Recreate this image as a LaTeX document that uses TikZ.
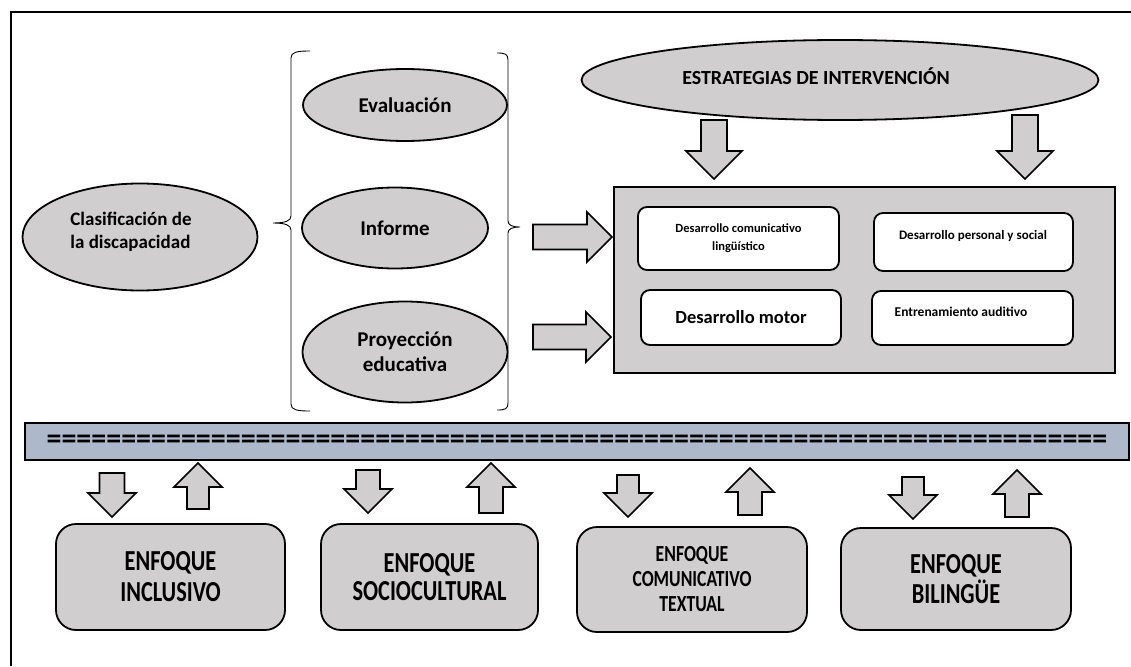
\documentclass[tikz,border=0pt]{standalone}
\usepackage{fontspec}
\setmainfont{Carlito}
\newfontfamily\narrowfont{Carlito}[FakeStretch=0.77]
\usepackage{tikz}
\usetikzlibrary{shapes.geometric}
\definecolor{shapegray}{RGB}{208,206,206}
\definecolor{barblue}{RGB}{173,185,202}
\tikzset{
	oval/.style={ellipse, draw=black, line width=1.8pt, fill=shapegray, inner sep=0pt, align=center},
	devbox/.style={draw=black, line width=1.8pt, fill=white, rounded corners=9pt, inner sep=0pt, align=center},
	focusbox/.style={draw=black, line width=1.8pt, fill=shapegray, rounded corners=20pt, inner sep=0pt, align=center},
	blockarr/.style={draw=black, line width=1.6pt, fill=shapegray, line join=miter},
	brace/.style={draw=black, line width=0.9pt}
}
% tip, angle, length, shaft half width, head half width
\newcommand{\blockarrow}[5]{%
	\begin{scope}[shift={#1}, rotate=#2]
		\filldraw[blockarr] (0,0) -- (-#5,#5) -- (-#5,#4) -- (-#3,#4) -- (-#3,-#4) -- (-#5,-#4) -- (-#5,-#5) -- cycle;
	\end{scope}}
\newcommand{\fs}[2]{\fontsize{#1}{#2}\selectfont\bfseries}

\begin{document}
\begin{tikzpicture}[x=1pt, y=-1pt]
		\useasboundingbox (0,0) rectangle (1131,666);
		\draw[line width=2.4pt] (11,666) -- (11,12) -- (1131,12);

		% left part
		\node[oval, minimum width=235pt, minimum height=107pt] (clasif) at (140,237) {};
		\node[font=\fs{19}{23}, align=left] (clasiftxt) at (131,232) {Clasificación de\\la discapacidad};
		\node[oval, minimum width=204pt, minimum height=72pt, font=\fs{21}{25}] (evalua) at (405,105) {Evaluación};
		\node[oval, minimum width=186pt, minimum height=81pt, font=\fs{21}{25}] (informe) at (395,228) {Informe};
		\node[oval, minimum width=205pt, minimum height=101pt, font=\fs{21}{25}] (proyec) at (405,352) {Proyección\\educativa};
		\draw[brace] (310,51) .. controls (297,51) and (291,52) .. (291,58) -- (291,216) .. controls (291,221) and (285,223) .. (273,223) .. controls (285,223) and (291,225) .. (291,230) -- (291,404) .. controls (291,410) and (297,411) .. (310,411);
		\draw[brace] (497,53) .. controls (505,53) and (508,54) .. (508,60) -- (508,221) .. controls (508,225) and (512,227) .. (520,227) .. controls (512,227) and (508,229) .. (508,233) -- (508,403) .. controls (508,409) and (505,410) .. (497,410);

		% right part
		\node[oval, minimum width=517pt, minimum height=80pt] (estrat) at (840,80) {};
		\node[font=\fs{20}{24}] (estrattxt) at (816,76) {ESTRATEGIAS DE INTERVENCIÓN};
		\node[draw=black, line width=2pt, fill=shapegray, minimum width=501pt, minimum height=186pt, inner sep=0pt] (dev) at (864.5,280) {};
		\node[devbox, minimum width=201pt, minimum height=63pt, font=\fs{12.5}{18}] (comun) at (738.5,238.5) {Desarrollo comunicativo\\lingüístico};
		\node[devbox, minimum width=199pt, minimum height=58pt] (personal) at (973.5,242) {};
		\node[font=\fs{13}{16}] (personaltxt) at (973,236) {Desarrollo personal y social};
		\node[devbox, minimum width=200pt, minimum height=55pt, font=\fs{18.5}{22}] (motor) at (741,317.5) {Desarrollo motor};
		\node[devbox, minimum width=201pt, minimum height=54pt] (auditivo) at (972.5,318) {};
		\node[font=\fs{13.5}{16}] (auditivotxt) at (961,312) {Entrenamiento auditivo};

		\blockarrow{(714,179)}{-90}{59}{13}{28}
		\blockarrow{(1025,179)}{-90}{64}{13}{28}
		\blockarrow{(612,237)}{0}{79}{12.5}{25}
		\blockarrow{(611,337)}{0}{78}{12.5}{25}

		% bar and approaches
		\node[draw=black, line width=2pt, fill=barblue, minimum width=1104pt, minimum height=37pt, inner sep=0pt, font=\fs{30}{30}] (bar) at (577,441.5) {=======================================================================};
		\node[focusbox, minimum width=229pt, minimum height=106pt, font=\narrowfont\fontsize{29}{31}\selectfont\bfseries] (inclus) at (170.5,577) {ENFOQUE\\INCLUSIVO};
		\node[focusbox, minimum width=217pt, minimum height=106pt, font=\narrowfont\fontsize{29}{28}\selectfont\bfseries] (socio) at (429.5,577) {ENFOQUE\\SOCIOCULTURAL};
		\node[focusbox, minimum width=230pt, minimum height=105pt, font=\narrowfont\fontsize{23}{25}\selectfont\bfseries] (comtext) at (692,579.5) {ENFOQUE\\COMUNICATIVO\\TEXTUAL};
		\node[focusbox, minimum width=230pt, minimum height=102pt, font=\narrowfont\fontsize{29}{30}\selectfont\bfseries] (biling) at (956,579) {ENFOQUE\\BILINGÜE};

		\blockarrow{(112,517)}{-90}{44}{12.5}{24}
		\blockarrow{(198,463)}{90}{46}{11}{24}
		\blockarrow{(368,513)}{-90}{43}{12}{24}
		\blockarrow{(491,463)}{90}{50}{12}{24}
		\blockarrow{(628,517)}{-90}{42}{11}{24}
		\blockarrow{(750,468)}{90}{47}{12}{24}
		\blockarrow{(913,519)}{-90}{42}{11}{24}
		\blockarrow{(1017,470)}{90}{47}{12}{24}
\end{tikzpicture}
\end{document}
